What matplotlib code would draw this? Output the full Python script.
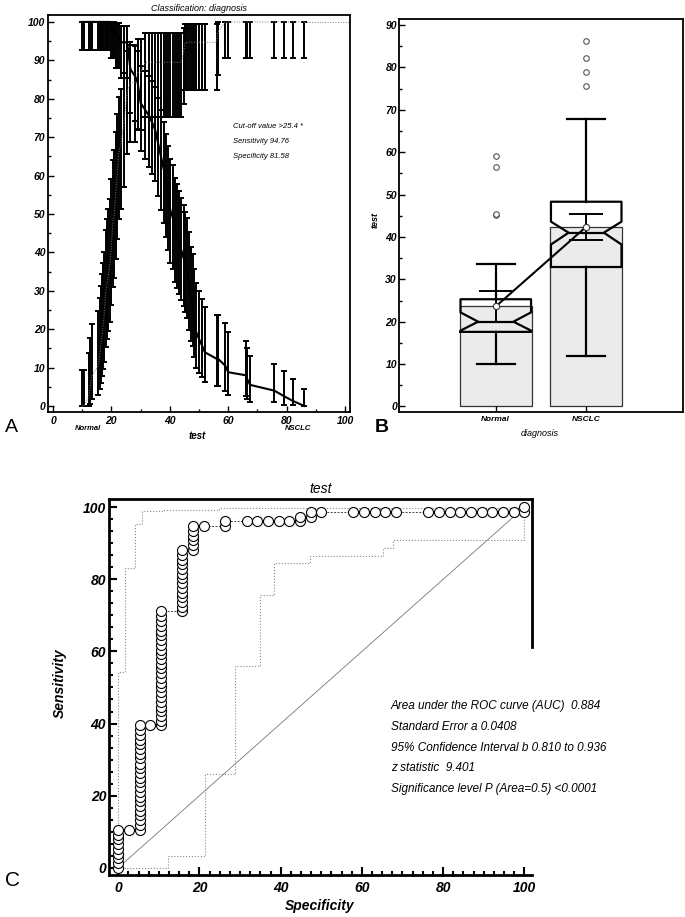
import matplotlib
matplotlib.use('Agg')
import matplotlib.pyplot as plt
import numpy as np
from matplotlib.ticker import MultipleLocator

plt.rcParams['font.family'] = ['Liberation Sans', 'DejaVu Sans']
plt.rcParams['font.style'] = 'italic'
plt.rcParams['font.weight'] = 'bold'

# ---- panel A: sensitivity / specificity vs criterion ----
crit = [10.0, 10.6, 12.3, 12.8, 13.3, 15.5, 16.0, 16.4, 16.8, 17.1, 17.5, 18.0,
        18.5, 19.0, 19.5, 20.0, 20.5, 21.0, 21.5, 22.0, 22.5, 23.3, 24.3, 25.4,
        26.5, 28.0, 29.0, 30.0, 31.5, 33.0, 34.0, 35.0, 36.0, 37.0, 38.0, 38.8,
        39.5, 40.2, 41.0, 41.8, 42.5, 43.2, 44.0, 44.7, 45.3, 46.0, 46.6, 47.2,
        47.8, 48.3, 49.0, 50.0, 51.0, 52.0, 56.0, 56.5, 59.0, 60.0, 66.0, 66.5,
        67.5, 75.8, 79.0, 82.2, 86.1]

spec = [0.0, 0.0, 2.6, 5.3, 7.9, 10.5, 13.2, 15.8, 18.4, 21.1, 23.7, 28.9,
        31.6, 34.2, 36.8, 42.1, 47.4, 50.0, 55.3, 60.5, 65.8, 68.4, 73.7, 81.6,
        84.2, 84.2, 86.8, 86.8, 89.5, 89.5, 89.5, 89.5, 89.5, 89.5, 89.5, 89.5,
        89.5, 89.5, 89.5, 89.5, 89.5, 89.5, 89.5, 92.1, 94.7, 94.7, 94.7, 94.7,
        94.7, 94.7, 94.7, 94.7, 94.7, 94.7, 94.7, 97.4, 100, 100, 100, 100,
        100, 100, 100, 100, 100]
spec_lo = [0.0, 0.0, 0.1, 0.6, 1.7, 2.9, 4.4, 6.0, 7.7, 9.6, 11.4, 15.4,
           17.5, 19.6, 21.8, 26.3, 31.0, 33.4, 38.3, 43.4, 48.6, 51.3, 56.9, 65.7,
           68.7, 68.7, 71.9, 71.9, 75.2, 75.2, 75.2, 75.2, 75.2, 75.2, 75.2, 75.2,
           75.2, 75.2, 75.2, 75.2, 75.2, 75.2, 75.2, 78.6, 82.3, 82.3, 82.3, 82.3,
           82.3, 82.3, 82.3, 82.3, 82.3, 82.3, 82.3, 86.2, 90.7, 90.7, 90.7, 90.7,
           90.7, 90.7, 90.7, 90.7, 90.7]
spec_hi = [9.3, 9.3, 13.8, 17.7, 21.4, 24.8, 28.1, 31.3, 34.3, 37.3, 40.2, 45.9,
           48.7, 51.4, 54.0, 59.2, 64.0, 66.6, 71.4, 76.0, 80.4, 82.5, 86.6, 92.3,
           94.0, 94.0, 95.6, 95.6, 97.1, 97.1, 97.1, 97.1, 97.1, 97.1, 97.1, 97.1,
           97.1, 97.1, 97.1, 97.1, 97.1, 97.1, 97.1, 98.3, 99.4, 99.4, 99.4, 99.4,
           99.4, 99.4, 99.4, 99.4, 99.4, 99.4, 99.4, 99.9, 100, 100, 100, 100,
           100, 100, 100, 100, 100]

sens = [100, 100, 100, 100, 100, 100, 100, 100, 100, 100, 100, 100,
        100, 100, 100, 98.2, 98.2, 98.2, 96.5, 96.5, 96.5, 94.7, 94.7, 94.7,
        87.7, 86.0, 84.2, 78.9, 77.2, 75.4, 73.7, 71.9, 68.4, 64.9, 61.4, 57.9,
        54.4, 50.9, 49.1, 45.6, 43.9, 42.1, 40.4, 38.6, 36.8, 35.1, 31.6, 28.1,
        26.3, 22.8, 19.3, 17.5, 15.8, 14.0, 12.3, 12.3, 10.5, 8.8, 8.0, 7.0,
        5.5, 4.0, 2.6, 1.3, 0.0]
sens_lo = [92.8, 92.8, 92.8, 92.8, 92.8, 92.8, 92.8, 92.8, 92.8, 92.8, 92.8, 92.8,
           92.8, 92.8, 92.8, 90.6, 90.6, 90.6, 87.9, 87.9, 87.9, 85.4, 85.4, 85.4,
           76.3, 74.2, 72.1, 66.3, 64.2, 62.2, 60.3, 58.5, 54.8, 51.1, 47.6, 44.1,
           40.7, 37.3, 35.6, 32.3, 30.7, 29.1, 27.6, 26.0, 24.4, 22.9, 19.9, 17.0,
           15.5, 12.7, 10.0, 8.7, 7.5, 6.3, 5.1, 5.1, 4.0, 2.9, 2.5, 1.9,
           1.1, 1.0, 0.3, 0.3, 0.0]
sens_hi = [100, 100, 100, 100, 100, 100, 100, 100, 100, 100, 100, 100,
           100, 100, 100, 100, 100, 100, 99.6, 99.6, 99.6, 98.9, 98.9, 98.9,
           94.9, 93.7, 92.5, 88.6, 87.3, 85.9, 84.5, 83.0, 80.1, 77.1, 74.0, 70.9,
           67.6, 64.4, 62.7, 59.3, 57.7, 56.0, 54.2, 52.4, 50.6, 48.9, 45.3, 41.5,
           39.7, 35.8, 31.9, 29.9, 27.9, 25.8, 23.7, 23.7, 21.5, 19.3, 17.0, 15.0,
           13.0, 11.0, 9.0, 7.0, 4.5]

cutoff_lines = ['Cut-off value >25.4 *', 'Sensitivity 94.76', 'Specificity 81.58']

# ---- panel B: box plots ----
groups = ['Normal', 'NSCLC']
q1 = [17.6, 32.9]
median = [20.0, 41.0]
q3 = [25.3, 48.3]
notch_lo = [17.9, 38.2]
notch_hi = [22.2, 43.6]
whisk_lo = [10.0, 11.9]
whisk_hi = [33.5, 67.9]
outliers = [[45.2, 45.4, 56.6, 59.1], [75.7, 79.0, 82.2, 86.1]]
means = [23.6, 42.4]
mean_ci_lo = [19.9, 39.2]
mean_ci_hi = [27.3, 45.5]

# ---- panel C: ROC curve ----
roc_x = ([0.0] * 9 + [2.6] + [5.3] * 23 + [7.9] + [10.5] * 25 + [15.8] * 14 +
         [18.4] * 6 + [21.1] + [26.3] * 2 + [31.6, 34.2, 36.8, 39.5, 42.1] +
         [44.7] * 2 + [47.4] * 2 + [50.0, 57.9, 60.5, 63.2, 65.8, 68.4, 76.3, 78.9,
                                    81.6, 84.2, 86.8, 89.5, 92.1, 94.7, 97.4] + [100.0] * 2)
roc_y = ([0.0, 1.3, 2.6, 3.9, 5.3, 6.6, 7.9, 9.2, 10.5] + [10.5] +
         [10.5, 11.8, 13.2, 14.5, 15.8, 17.1, 18.4, 19.7, 21.1, 22.4, 23.7, 25.0,
          26.3, 27.6, 28.9, 30.3, 31.6, 32.9, 34.2, 35.5, 36.8, 38.2, 39.5] + [39.5] +
         [39.5, 40.8, 42.1, 43.4, 44.7, 46.1, 47.4, 48.7, 50.0, 51.3, 52.6, 53.9,
          55.3, 56.6, 57.9, 59.2, 60.5, 61.8, 63.2, 64.5, 65.8, 67.1, 68.4, 69.7, 71.1] +
         [71.1, 72.4, 73.7, 75.0, 76.3, 77.6, 78.9, 80.3, 81.6, 82.9, 84.2, 85.5, 86.8, 88.2] +
         [88.2, 89.5, 90.8, 92.1, 93.4, 94.7] + [94.7] + [94.7, 96.1] +
         [96.1] * 5 + [96.1, 97.4] + [97.4, 98.7] + [98.7] * 15 + [98.7, 100.0])
ci_upper_x = [0.0, 0.0, 1.6, 4.1, 5.8, 11.1, 24.9, 100.0]
ci_upper_y = [0.0, 54.3, 83.2, 95.5, 99.0, 99.3, 99.8, 100.0]
ci_lower_x = [0.0, 12.3, 21.3, 28.7, 35.0, 38.3, 47.1, 65.2, 67.7, 100.0]
ci_lower_y = [0.0, 3.3, 25.9, 55.9, 75.8, 84.5, 86.5, 88.6, 90.9, 100.0]
roc_stats = ['Area under the ROC curve (AUC)  0.884',
             'Standard Error a 0.0408',
             '95% Confidence Interval b 0.810 to 0.936',
             'z statistic  9.401',
             'Significance level P (Area=0.5) <0.0001']

W, H = 685, 917
fig = plt.figure(figsize=(W / 100, H / 100), dpi=100)


def px_axes(left, top, right, bottom):
    """Add axes given a box in figure pixels (top-left origin)"""
    return fig.add_axes([left / W, 1 - bottom / H, (right - left) / W, (bottom - top) / H])


def fig_text(x, y, s, **kw):
    fig.text(x / W, 1 - y / H, s, **kw)


# ================= A =================
axA = px_axes(48, 15, 350, 412)
crit_a = np.array(crit)
spec_a, sens_a = np.array(spec), np.array(sens)
axA.errorbar(crit_a, spec_a, yerr=[spec_a - np.array(spec_lo), np.array(spec_hi) - spec_a],
             fmt='none', ecolor='black', elinewidth=1.4, capsize=2.5, capthick=1.4)
axA.errorbar(crit_a, sens_a, yerr=[sens_a - np.array(sens_lo), np.array(sens_hi) - sens_a],
             fmt='none', ecolor='black', elinewidth=1.4, capsize=2.5, capthick=1.4)
axA.plot(crit_a, spec_a, color='#777777', lw=0.7, ls=':')
axA.hlines(spec_a[-1], crit_a[-1], 101.7, color='#777777', lw=0.7, ls=':')
axA.plot(crit_a, sens_a, color='black', lw=1.5)
axA.set_xlim(-1.7, 101.7)
axA.set_ylim(-1.56, 101.8)
axA.xaxis.set_major_locator(MultipleLocator(20))
axA.xaxis.set_minor_locator(MultipleLocator(10))
axA.yaxis.set_major_locator(MultipleLocator(10))
axA.yaxis.set_minor_locator(MultipleLocator(5))
axA.tick_params(which='both', direction='in', width=1, labelsize=7.5)
axA.tick_params(which='major', length=4)
axA.tick_params(which='minor', length=2)
axA.tick_params(axis='y', pad=2)
axA.tick_params(axis='x', pad=3)
for sp in axA.spines.values():
    sp.set_linewidth(1.3)
axA.set_title('Classification: diagnosis', fontsize=6.5, pad=3)
for i, line in enumerate(cutoff_lines):
    fig_text(233, 126 + i * 15.5, line, fontsize=5.5, weight='normal', ha='left', va='center')
fig_text(88, 428, 'Normal', fontsize=5.5, ha='center', va='center')
fig_text(298, 428, 'NSCLC', fontsize=5.5, ha='center', va='center')
fig_text(197, 436, 'test', fontsize=7, ha='center', va='center')

# ================= B =================
axB = px_axes(399, 19, 683, 412)
pos = [1, 2]
axB.bar(pos, means, width=0.79, color='#ebebeb', edgecolor='#333333', lw=0.9, zorder=1)
stats = []
for i, g in enumerate(groups):
    stats.append(dict(label=g, med=median[i], q1=q1[i], q3=q3[i], cilo=notch_lo[i],
                      cihi=notch_hi[i], whislo=whisk_lo[i], whishi=whisk_hi[i],
                      fliers=outliers[i], mean=means[i]))
line_kw = dict(color='black', lw=1.6)
axB.bxp(stats, positions=pos, widths=0.78, shownotches=True, showfliers=True,
        boxprops=line_kw, whiskerprops=line_kw, capprops=line_kw, medianprops=line_kw,
        flierprops=dict(marker='o', mfc='white', mec='#555555', ms=4, mew=0.8),
        capwidths=0.42, zorder=2)
m = np.array(means)
axB.errorbar(pos, m, yerr=[m - np.array(mean_ci_lo), np.array(mean_ci_hi) - m], fmt='none',
             ecolor='black', elinewidth=1.4, capsize=12, capthick=1.4, zorder=3)
axB.plot(pos, means, color='black', lw=1.5, marker='o', mfc='white', mec='#333333',
         ms=4.5, mew=0.8, zorder=4)
axB.set_xlim(-0.07, 3.07)
axB.set_ylim(-1.3, 91.4)
axB.set_xticks(pos)
axB.set_xticklabels(groups, fontsize=6)
axB.yaxis.set_major_locator(MultipleLocator(10))
axB.yaxis.set_minor_locator(MultipleLocator(5))
axB.tick_params(which='both', direction='in', width=1)
axB.tick_params(which='major', length=4)
axB.tick_params(which='minor', length=2)
axB.tick_params(axis='y', labelsize=7.5, pad=1.5)
axB.tick_params(axis='x', pad=3)
for sp in axB.spines.values():
    sp.set_linewidth(1.3)
fig_text(375, 220, 'test', fontsize=6.5, rotation=90, ha='center', va='center')
fig_text(540, 433, 'diagnosis', fontsize=6.5, weight='normal', ha='center', va='center')

# ================= C =================
axC = px_axes(109, 499, 532, 875)
axC.plot([0, 100], [0, 100], color='#777777', lw=0.6)
axC.step(ci_upper_x, ci_upper_y, where='post', color='#888888', lw=0.8, ls=':')
axC.step(ci_lower_x, ci_lower_y, where='post', color='#888888', lw=0.8, ls=':')
axC.plot(roc_x, roc_y, color='#444444', lw=0.7, ls=(0, (2, 1.5)), marker='o', ms=7.2,
         mfc='white', mec='black', mew=0.8)
axC.set_xlim(-2.29, 101.9)
axC.set_ylim(-2.03, 102.3)
axC.xaxis.set_major_locator(MultipleLocator(20))
axC.xaxis.set_minor_locator(MultipleLocator(2.5))
axC.yaxis.set_major_locator(MultipleLocator(20))
axC.yaxis.set_minor_locator(MultipleLocator(10 / 3))
axC.tick_params(which='both', direction='in', width=1.5, labelsize=10)
axC.tick_params(which='major', length=6)
axC.tick_params(which='minor', length=3)
axC.tick_params(axis='y', pad=2)
axC.tick_params(axis='x', pad=4)
for sp in axC.spines.values():
    sp.set_linewidth(2)
axC.spines['right'].set_bounds(61.2, 102.3)
axC.set_title('test', fontsize=10, pad=4)
fig_text(60, 683, 'Sensitivity', fontsize=10, rotation=90, ha='center', va='center')
fig_text(320, 906, 'Specificity', fontsize=10, ha='center', va='center')
for i, line in enumerate(roc_stats):
    fig_text(391, 706 + i * 20.8, line, fontsize=8.5, weight='normal', ha='left', va='center')

# panel letters
fig_text(11, 428, 'A', fontsize=14, style='normal', weight='normal', ha='center', va='center')
fig_text(382, 428, 'B', fontsize=14, style='normal', weight='bold', ha='center', va='center')
fig_text(12, 880, 'C', fontsize=15, style='normal', weight='normal', ha='center', va='center')

fig.savefig('out.png', dpi=100)
plt.close(fig)
